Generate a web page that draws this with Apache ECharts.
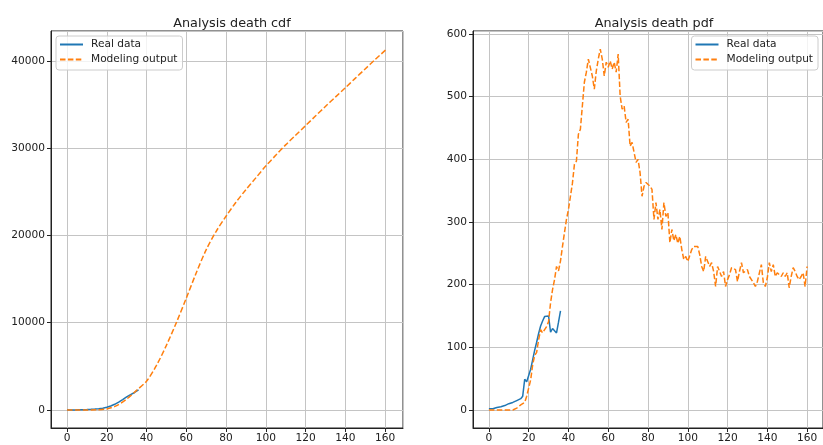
<!DOCTYPE html>
<html>
<head>
<meta charset="utf-8">
<script src="https://cdn.jsdelivr.net/npm/echarts@6/dist/echarts.min.js"></script>
<style>
  html, body { margin: 0; padding: 0; background: #fff; }
  #chart { width: 823px; height: 445px; }
</style>
</head>
<body>
<div id="chart"></div>
<script>
// real data, day 0..36
const realCdf = [2, 3, 5, 7, 11, 16, 21, 25, 32, 40, 50, 61, 73, 85, 100, 116, 134, 156, 205, 250,
  305, 370, 450, 545, 653, 775, 909, 1051, 1200, 1351, 1501, 1625, 1755, 1882, 2005, 2145, 2303];
const realPdf = [2, 1, 2, 2, 4, 5, 5, 4, 7, 8, 10, 11, 12, 12, 15, 16, 18, 22, 49, 45,
  55, 65, 80, 95, 108, 122, 134, 142, 149, 151, 150, 124, 130, 127, 123, 140, 158];

// model cdf, read at these days
const modelCdfDays = [0, 5, 10, 15, 20, 25, 30, 35, 40, 45, 50, 55, 60, 65, 70, 75, 80, 85, 90, 95,
  100, 105, 110, 115, 120, 125, 130, 135, 140, 145, 150, 155, 161];
const modelCdf = [0, 0, 0, 30, 120, 500, 1250, 2250, 3300, 5100, 7400, 10000, 12800, 15700, 18350, 20450, 22200, 23800, 25250, 26600,
  27950, 29180, 30380, 31480, 32580, 33680, 34780, 35850, 36920, 38000, 39080, 40150, 41400];

// model pdf, day 0..160
const modelPdf = [0, 0, 0, 0, 0, 0, 0, 0, 0, 0, 0, 0, 0, 1, 3, 5, 8, 10, 12, 22,
  22, 48, 72, 87, 92, 112, 128, 123, 125, 133, 141, 171, 192, 208, 229, 222, 238, 261, 283, 304,
  320, 323, 362, 392, 397, 440, 448, 445, 523, 539, 560, 557, 533, 512, 541, 560, 576, 560, 533, 555,
  547, 557, 544, 555, 539, 568, 501, 480, 485, 459, 464, 421, 427, 411, 395, 400, 379, 341, 357, 363,
  365, 357, 352, 304, 331, 304, 320, 288, 331, 309, 315, 267, 288, 270, 280, 266, 277, 256, 240, 245,
  237, 240, 256, 261, 264, 261, 248, 229, 221, 245, 248, 229, 235, 221, 197, 229, 227, 213, 221, 197,
  208, 216, 227, 229, 224, 205, 221, 235, 219, 221, 224, 213, 208, 203, 197, 205, 203, 232, 203, 197,
  211, 235, 221, 232, 213, 219, 216, 213, 219, 213, 219, 195, 213, 227, 221, 213, 208, 213, 219, 197,
  229];

const FONT = "DejaVu Sans";
const BLUE = "#1f77b4";
const ORANGE = "#ff7f0e";

function xAxisOpt(gridIndex, min, max) {
  return {
    type: "value", gridIndex, min, max,
    minInterval: 20, maxInterval: 20,
    axisLine: { show: true, onZero: false, lineStyle: { color: "#222", width: 1 } },
    axisTick: { show: true, length: 4, lineStyle: { color: "#222" } },
    axisLabel: { color: "#222", fontFamily: FONT, fontSize: 10.6, margin: 5,
      showMinLabel: false, showMaxLabel: false },
    splitLine: { show: true, lineStyle: { color: "#c4c4c4", width: 1 } }
  };
}

function yAxisOpt(gridIndex, min, max, step) {
  return {
    type: "value", gridIndex, min, max,
    minInterval: step, maxInterval: step,
    axisLine: { show: true, onZero: false, lineStyle: { color: "#222", width: 1 } },
    axisTick: { show: true, length: 4, lineStyle: { color: "#222" } },
    axisLabel: { color: "#222", fontFamily: FONT, fontSize: 10.6, margin: 6,
      showMinLabel: false, showMaxLabel: false, formatter: v => String(v) },
    splitLine: { show: true, lineStyle: { color: "#c4c4c4", width: 1 } }
  };
}

function legendOpt(pos) {
  return Object.assign({
    orient: "vertical", top: 36,
    data: ["Real data", "Modeling output"],
    itemWidth: 23, itemHeight: 12, itemGap: 4,
    padding: [3, 5, 5, 3],
    itemStyle: { opacity: 0 },
    backgroundColor: "rgba(255,255,255,0.8)",
    borderColor: "#cccccc", borderWidth: 1, borderRadius: 3,
    textStyle: { fontFamily: FONT, fontSize: 10.6, color: "#222", padding: [0, 0, 0, 3] }
  }, pos);
}

const chart = echarts.init(document.getElementById("chart"), null, { renderer: "canvas" });

chart.setOption({
  animation: false,
  title: [
    { text: "Analysis death cdf", left: 227, top: 12, textAlign: "center",
      textStyle: { fontFamily: FONT, fontSize: 12.8, fontWeight: "normal", color: "#222" } },
    { text: "Analysis death pdf", left: 649, top: 12, textAlign: "center",
      textStyle: { fontFamily: FONT, fontSize: 12.8, fontWeight: "normal", color: "#222" } }
  ],
  legend: [legendOpt({ left: 56 }), legendOpt({ right: 5 })],
  grid: [
    { left: 51, width: 352, top: 31, bottom: 17, show: true, borderColor: "#222", borderWidth: 1 },
    { left: 473, width: 352, top: 31, bottom: 17, show: true, borderColor: "#222", borderWidth: 1 }
  ],
  xAxis: [xAxisOpt(0, -8.05, 169.05), xAxisOpt(1, -8, 168)],
  yAxis: [yAxisOpt(0, -2065, 43430, 10000), yAxisOpt(1, -28.8, 604.8, 100)],
  series: [
    { name: "Real data", type: "line", xAxisIndex: 0, yAxisIndex: 0, symbol: "none",
      data: realCdf.map((v, i) => [i, v]),
      lineStyle: { color: BLUE, width: 1.5 }, itemStyle: { color: BLUE } },
    { name: "Modeling output", type: "line", xAxisIndex: 0, yAxisIndex: 0, symbol: "none", smooth: 0.3,
      data: modelCdf.map((v, i) => [modelCdfDays[i], v]),
      lineStyle: { color: ORANGE, width: 1.5, type: [5.5, 2.4] }, itemStyle: { color: ORANGE } },
    { name: "Real data", type: "line", xAxisIndex: 1, yAxisIndex: 1, symbol: "none",
      data: realPdf.map((v, i) => [i, v]),
      lineStyle: { color: BLUE, width: 1.5 }, itemStyle: { color: BLUE } },
    { name: "Modeling output", type: "line", xAxisIndex: 1, yAxisIndex: 1, symbol: "none",
      data: modelPdf.map((v, i) => [i, v]),
      lineStyle: { color: ORANGE, width: 1.5, type: [5.5, 2.4] }, itemStyle: { color: ORANGE } }
  ]
});
</script>
</body>
</html>
